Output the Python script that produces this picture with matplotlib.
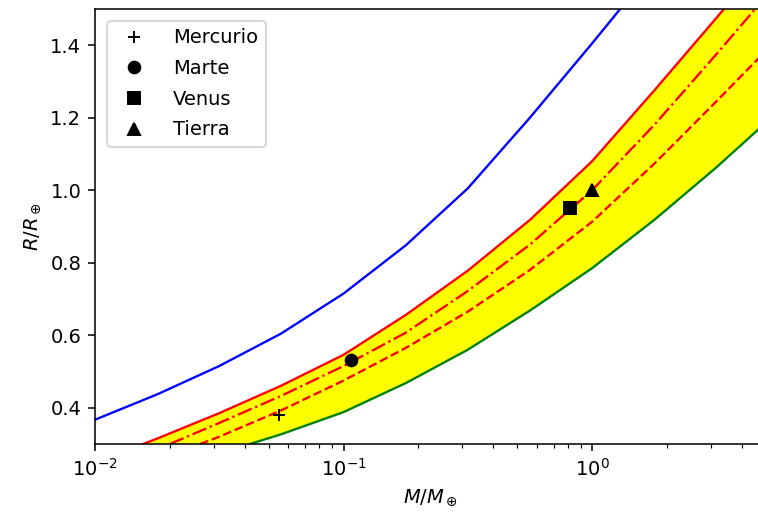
import numpy as np
import matplotlib
matplotlib.use('Agg')
import matplotlib.pyplot as plt

# curves (mass in Earth masses, radius in Earth radii)
blue_m = [0.01, 0.0178, 0.0316, 0.0562, 0.1, 0.178, 0.316, 0.562, 1.0, 1.778]
blue_r = [0.367, 0.437, 0.515, 0.605, 0.715, 0.848, 1.005, 1.20, 1.405, 1.615]

red_m = [0.0156, 0.0178, 0.0316, 0.0562, 0.1, 0.178, 0.316, 0.562, 1.0, 1.778, 3.162, 5.623]
red_r = [0.30, 0.315, 0.385, 0.461, 0.546, 0.656, 0.778, 0.918, 1.08, 1.275, 1.475, 1.68]

dashdot_m = [0.02, 0.0316, 0.0562, 0.1, 0.178, 0.316, 0.562, 1.0, 1.778, 3.162, 5.623]
dashdot_r = [0.30, 0.358, 0.433, 0.515, 0.607, 0.722, 0.85, 1.0, 1.18, 1.375, 1.575]

dashed_m = [0.0265, 0.0316, 0.0562, 0.1, 0.178, 0.316, 0.562, 1.0, 1.778, 3.162, 5.623]
dashed_r = [0.30, 0.32, 0.393, 0.475, 0.565, 0.665, 0.78, 0.913, 1.073, 1.245, 1.42]

green_m = [0.042, 0.0562, 0.1, 0.178, 0.316, 0.562, 1.0, 1.778, 3.162, 5.623]
green_r = [0.30, 0.327, 0.388, 0.468, 0.56, 0.668, 0.785, 0.918, 1.063, 1.218]

# planets
planet_names = ['Mercurio', 'Marte', 'Venus', 'Tierra']
planet_m = [0.055, 0.107, 0.815, 1.0]
planet_r = [0.38, 0.532, 0.95, 1.0]
planet_markers = ['+', 'o', 's', '^']

fig = plt.figure(figsize=(758 / 140, 519 / 140), dpi=140)
ax = fig.add_axes([0.1253, 0.1445, 0.885, 0.8382])

# yellow band between the red and green curves
band_m = np.r_[red_m, green_m[::-1]]
band_r = np.r_[red_r, green_r[::-1]]
ax.fill(band_m, band_r, color='yellow', lw=0)

lw = 1.2
ax.plot(blue_m, blue_r, 'b-', lw=lw)
ax.plot(red_m, red_r, 'r-', lw=lw)
ax.plot(dashdot_m, dashdot_r, 'r-.', lw=lw)
ax.plot(dashed_m, dashed_r, 'r--', lw=lw)
ax.plot(green_m, green_r, 'g-', lw=lw)

for name, m, r, mk in zip(planet_names, planet_m, planet_r, planet_markers):
    ax.plot(m, r, mk, color='k', label=name)

ax.set_xscale('log')
ax.set_xlim(0.01, 5)
ax.set_ylim(0.3, 1.5)
ax.set_xlabel(r'$M/M_\oplus$')
ax.set_ylabel(r'$R/R_\oplus$')
ax.legend(loc='upper left', labelspacing=0.6, handletextpad=1.0, borderaxespad=0.6)

fig.savefig('out.png', dpi=140)
